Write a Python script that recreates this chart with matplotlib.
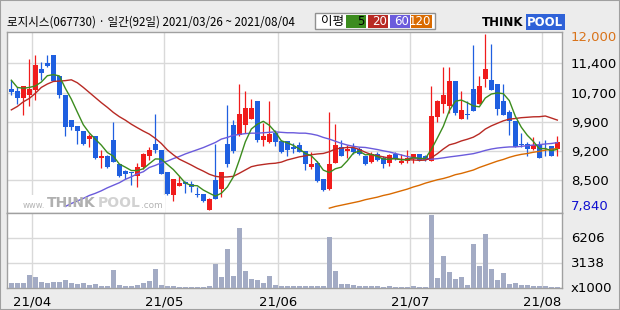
import matplotlib.pyplot as plt
from matplotlib.patches import Rectangle
import numpy as np
import pandas as pd

# 로지시스(067730) daily, 2021/03/26 ~ 2021/08/04 (92 trading days)
title = "로지시스(067730) · 일간(92일) 2021/03/26 ~ 2021/08/04"
holidays = ["2021-05-05", "2021-05-19"]
dates = pd.bdate_range("2021-03-26", "2021-08-04").drop(pd.to_datetime(holidays))

opens = [10700, 10650, 10500, 10550, 10680, 11180, 11310, 11500, 11010, 10560,
         9970, 9840, 9720, 9530, 9590, 9070, 9120, 9500, 8930, 8770,
         8740, 8660, 8850, 9130, 9400, 9260, 8740, 8190, 8420, 8500,
         8460, 8220, 8220, 7850, 8550, 8340, 9400, 9850, 9620, 9860,
         10000, 10420, 9500, 9450, 9670, 9480, 9480, 9340, 9380, 9250,
         8850, 8950, 8580, 8340, 8960, 9330, 9250, 9300, 9280, 9110,
         8990, 9180, 9080, 8960, 9170, 8950, 9010, 9040, 9160, 9110,
         9010, 10050, 10350, 10310, 10880, 9990, 10120, 10700, 10350, 10940,
         10920, 10820, 10420, 10170, 9950, 9400, 9400, 9280, 9380, 9390,
         9360, 9280]
highs = [10910, 10740, 10770, 11400, 11500, 11350, 11500, 11500, 11010, 10560,
         9970, 9840, 9720, 9640, 9600, 9260, 9150, 9930, 8930, 8790,
         8740, 8950, 9200, 9340, 10110, 9260, 8740, 8590, 8650, 8540,
         8520, 8380, 8220, 8120, 9400, 8750, 10330, 9970, 10820, 10660,
         10460, 10420, 9910, 10420, 9740, 9490, 9480, 9420, 9440, 9250,
         9210, 9010, 8580, 10170, 9880, 9500, 9380, 9420, 9330, 9130,
         9210, 9210, 9110, 9170, 9210, 9170, 9260, 9180, 9180, 9150,
         10770, 10440, 11230, 11230, 10880, 10660, 10420, 11730, 11010, 12000,
         11760, 10820, 10820, 10210, 9950, 9660, 9440, 9560, 9480, 9500,
         9360, 9590]
lows = [10560, 10360, 10090, 10290, 10440, 10910, 11230, 10880, 10500, 9590,
        9740, 9400, 9380, 9340, 9060, 8830, 8830, 8970, 8630, 8590,
        8440, 8400, 8810, 9030, 9200, 8690, 8200, 8070, 8420, 8240,
        8280, 8160, 8040, 7840, 8100, 8150, 8870, 9200, 9590, 9670,
        9990, 9460, 9360, 9420, 9360, 9200, 9120, 9200, 9210, 8780,
        8810, 8500, 8300, 8320, 8960, 9110, 9070, 9180, 9150, 8920,
        8950, 9000, 8830, 8890, 9030, 8930, 8950, 8950, 9010, 9010,
        9010, 9930, 10140, 10140, 10100, 9990, 9990, 10190, 10350, 10760,
        10680, 10100, 10100, 9620, 9340, 9340, 9110, 9260, 9070, 9110,
        9110, 9110]
closes = [10630, 10500, 10770, 10700, 11270, 11090, 11250, 10900, 10550, 9810,
          9810, 9720, 9400, 9590, 9070, 9110, 8850, 8970, 8660, 8700,
          8710, 8850, 9180, 9260, 9260, 8690, 8220, 8580, 8480, 8450,
          8400, 8190, 8070, 8110, 8100, 8740, 8930, 9250, 10110, 10250,
          10250, 9500, 9590, 9640, 9460, 9210, 9260, 9290, 9220, 8930,
          8930, 8540, 8320, 8930, 9380, 9120, 9290, 9220, 9180, 8930,
          9180, 9030, 8930, 9140, 9040, 9000, 9080, 9170, 9030, 9030,
          10070, 10420, 10560, 10880, 10140, 10210, 10100, 10190, 10770, 11180,
          10680, 10230, 10100, 9950, 9340, 9380, 9280, 9380, 9080, 9370,
          9120, 9440]
# volume, x1000 shares
volumes = [698, 698, 698, 1650, 1402, 781, 698, 781, 781, 988,
           698, 574, 657, 450, 533, 285, 285, 2270, 409, 285,
           285, 409, 657, 905, 2395, 409, 285, 285, 160, 160,
           160, 160, 160, 285, 3015, 1402, 4877, 1526, 7483, 2147,
           1154, 1029, 657, 1526, 409, 285, 285, 285, 285, 285,
           285, 285, 285, 6366, 2147, 533, 533, 409, 285, 285,
           285, 285, 160, 285, 160, 160, 160, 285, 160, 160,
           9097, 1278, 4008, 2022, 1154, 1402, 409, 5497, 2767, 6738,
           2395, 1029, 1898, 533, 657, 409, 409, 285, 285, 285,
           160, 160]

# moving-average values that need history before the window
ma5_head = [10910, 10740, 10720, 10740]                       # days 0-3
ma20_head = [10210, 10290, 10400, 10480, 10600, 10740, 10820, 10880, 10890, 10900,
             10920, 10850, 10740, 10620, 10500, 10380, 10270, 10150, 10050]  # days 0-18
ma60_head = [7930, 8000, 8060, 8120, 8190, 8240, 8300, 8370, 8430, 8490,
             8570, 8630, 8700, 8750, 8850, 8900, 8960, 9000, 9060, 9110,
             9170, 9220, 9270, 9320, 9380, 9440, 9520, 9560, 9610, 9630,
             9650, 9660, 9660, 9670, 9680, 9690, 9680, 9670, 9670, 9660,
             9660, 9640, 9610, 9560, 9520, 9470, 9420, 9380, 9350, 9330]  # days 9-58
ma120_tail = [7890, 7930, 7960, 7990, 8020, 8050, 8090, 8120, 8150, 8190,
              8220, 8260, 8300, 8340, 8390, 8430, 8480, 8520, 8560, 8590,
              8630, 8680, 8710, 8750, 8790, 8850, 8900, 8950, 9000, 9040,
              9090, 9130, 9160, 9180, 9210, 9230, 9260, 9280, 9300]      # days 53-91

price_ticks = [8548, 9238, 9928, 10618, 11308]
price_labels = ["8,500", "9,200", "9,900", "10,700", "11,400"]
vol_ticks = [0, 3138, 6206]
vol_labels = ["x1000", "3138", "6206"]

UP, DOWN = "#f01c1c", "#1f5fe0"
MA_COLORS = {"5": "#3c8c1e", "20": "#b82a24", "60": "#6b5bdc", "120": "#d96a00"}
BG = "#ececec"
FRAME = "#a0a0a0"
GRID = "#d9d9d9"
num_font = ["Liberation Sans Narrow", "DejaVu Sans"]
kr_font = ["Noto Sans CJK KR", "DejaVu Sans"]

n = len(closes)
x = np.arange(n)
o, h, l, c = map(np.array, (opens, highs, lows, closes))
cs = pd.Series(closes, dtype=float)
ma5 = cs.rolling(5).mean().to_numpy(); ma5[:4] = ma5_head
ma20 = cs.rolling(20).mean().to_numpy(); ma20[:19] = ma20_head
ma60 = cs.rolling(60).mean().to_numpy(); ma60[9:59] = ma60_head
ma120 = np.full(n, np.nan); ma120[53:] = ma120_tail

month_start = [i for i in range(1, n) if dates[i].month != dates[i - 1].month]
month_labels = [dates[i].strftime("%y/%m") for i in month_start]


def fx(px):
    return px / 620


def fy(py):
    return 1 - py / 310


fig = plt.figure(figsize=(6.2, 3.1), dpi=100, facecolor=BG)
fig.patches.append(Rectangle((0, 0), 1, 1, transform=fig.transFigure, fill=False,
                             edgecolor=FRAME, lw=1.5))

ax = fig.add_axes([fx(7), fy(212.7), fx(555), 181 / 310])
axv = fig.add_axes([fx(7), fy(288.3), fx(555), 75.6 / 310], sharex=ax)

for a in (ax, axv):
    a.set_facecolor("white")
    a.set_axisbelow(True)
    for s in a.spines.values():
        s.set_color(FRAME)
        s.set_linewidth(1)
    a.yaxis.tick_right()
    a.tick_params(length=0, labelsize=9.5, colors="black")
    a.grid(True, color=GRID, lw=1)
    a.set_xticks([i - 0.5 for i in month_start])

# candles
cols = np.where(c >= o, UP, DOWN)
ax.vlines(x, l, h, colors=cols, lw=0.9, zorder=3)
body = np.maximum(np.abs(c - o), 22)
ax.bar(x, body, bottom=np.minimum(o, c), width=0.78, color=cols, lw=0, zorder=4)

for key, ma in (("120", ma120), ("60", ma60), ("20", ma20), ("5", ma5)):
    ax.plot(x, ma, color=MA_COLORS[key], lw=1.0, zorder=5)

ax.set_xlim(-0.72, 91.78)
ax.set_ylim(7783, 12055)
ax.set_yticks(price_ticks)
ax.set_yticklabels(price_labels, family=num_font)
ax.tick_params(axis="y", pad=6.5)
ax.tick_params(axis="x", labelbottom=False)

# highest / lowest markers
ax.annotate(f"{max(highs):,}", xy=(1, max(highs)), xycoords=("axes fraction", "data"),
            xytext=(6.5, -2.2), textcoords="offset points", va="center", ha="left",
            fontsize=9.5, color="#d9731a", family=num_font)
ax.annotate(f"{min(lows):,}", xy=(1, min(lows)), xycoords=("axes fraction", "data"),
            xytext=(6.5, 2.6), textcoords="offset points", va="center", ha="left",
            fontsize=9.5, color="#1010d0", family=num_font)

# watermark
ax.add_patch(Rectangle((0.023, 0), 0.262, 0.098, transform=ax.transAxes,
                       facecolor="white", edgecolor="none", zorder=1.5))
fig.text(fx(23), fy(205), "www.", fontsize=6, color="#b4b4b4", va="center")
fig.text(fx(47), fy(203), "THINK", fontsize=10, color="#b0b0b0", va="center", weight="bold")
fig.text(fx(97.5), fy(203), "POOL", fontsize=10, color="#d2d2d2", va="center", weight="bold")
fig.text(fx(141), fy(205), ".com", fontsize=6.4, color="#b4b4b4", va="center")

# volume
axv.bar(x, volumes, width=0.78, color="#a3abc4", lw=0, zorder=3)
axv.set_ylim(0, 9380)
axv.set_yticks(vol_ticks)
axv.set_yticklabels(vol_labels, family=num_font)
axv.tick_params(axis="y", pad=6.5)
axv.set_xticklabels(month_labels, family=num_font)
axv.tick_params(axis="x", pad=5)
for t in axv.get_yticklabels():
    t.set_va("center")

# header
fig.text(fx(7), fy(22), title, fontsize=8.3, family=kr_font, va="center", ha="left")
fig.patches.append(Rectangle((fx(315), fy(29.3)), fx(120), 16.6 / 310, transform=fig.transFigure,
                             facecolor="white", edgecolor="#909090", lw=1))
fig.text(fx(321), fy(21.5), "이평", fontsize=9, family=kr_font, va="center", ha="left")
for key, (x0, x1) in zip(MA_COLORS, [(346, 366), (368, 388), (390, 410), (411, 432)]):
    fig.patches.append(Rectangle((fx(x0), fy(27.7)), fx(x1 - x0), 12.7 / 310,
                                 transform=fig.transFigure, facecolor=MA_COLORS[key],
                                 edgecolor="none"))
    fig.text(fx(x1 - 1), fy(21.5), key, fontsize=8.5, family=num_font, va="center", ha="right",
             color="black" if key == "5" else "white")

# logo
fig.text(fx(482), fy(22), "THINK", fontsize=8.5, weight="bold", color="black", va="center")
fig.text(fx(527), fy(22), "POOL", fontsize=8.5, weight="bold", color="white", va="center",
         bbox=dict(boxstyle="square,pad=0.12", facecolor="#2f62d8", edgecolor="none"))

fig.savefig("out.png", dpi=100, facecolor=BG)
